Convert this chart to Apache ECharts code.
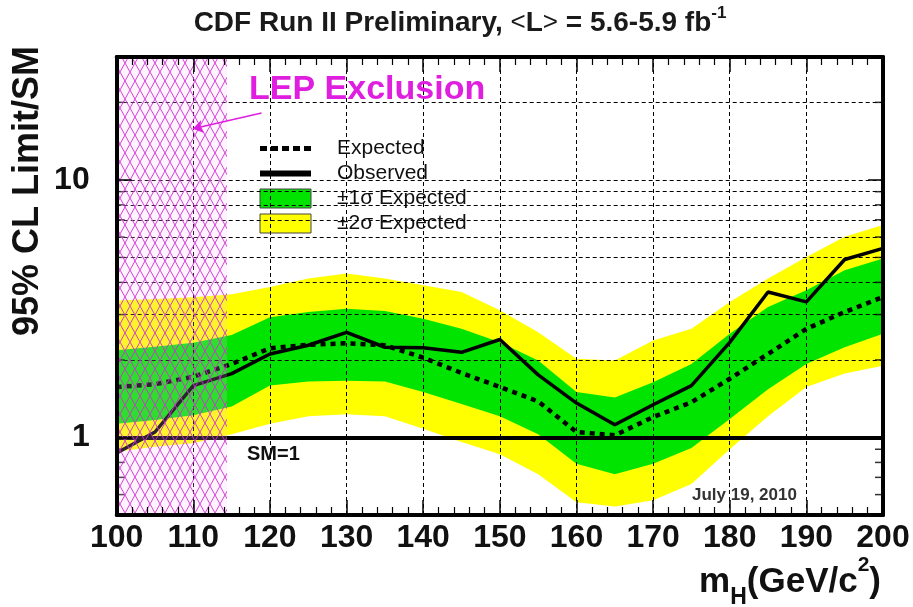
<!DOCTYPE html>
<html>
<head>
<meta charset="utf-8">
<script src="https://cdn.jsdelivr.net/npm/echarts@6.0.0/dist/echarts.min.js"></script>
<style>html,body{margin:0;padding:0;background:#fff}#c{width:913px;height:607px}</style>
</head>
<body>
<div id="c"></div>
<script>
// Higgs mass points (GeV/c^2)
const mass = [100,105,110,115,120,125,130,135,140,145,150,155,160,165,170,175,180,185,190,195,200];
// 95% CL limit / SM
const observed = [0.87,1.05,1.59,1.77,2.11,2.28,2.56,2.24,2.23,2.14,2.40,1.75,1.36,1.12,1.34,1.59,2.34,3.67,3.36,4.91,5.42];
const expected = [1.57,1.61,1.72,1.93,2.22,2.29,2.32,2.28,2.04,1.78,1.57,1.38,1.05,1.02,1.20,1.37,1.69,2.11,2.64,3.07,3.51];
const sigma1Hi = [2.18,2.25,2.33,2.50,2.93,3.07,3.16,3.10,2.89,2.64,2.34,1.99,1.50,1.43,1.64,1.93,2.53,3.21,3.73,4.46,4.95];
const sigma1Lo = [1.13,1.17,1.22,1.32,1.59,1.65,1.66,1.65,1.50,1.35,1.21,1.03,0.79,0.72,0.79,0.91,1.18,1.54,1.93,2.24,2.53];
const sigma2Hi = [3.40,3.45,3.50,3.60,3.84,4.14,4.33,4.14,3.90,3.67,3.12,2.56,2.02,1.99,2.38,2.64,3.36,4.14,5.02,6.01,6.68];
const sigma2Lo = [0.88,0.92,0.95,1.03,1.13,1.21,1.23,1.21,1.08,0.96,0.86,0.72,0.56,0.54,0.57,0.66,0.90,1.21,1.57,1.77,1.90];
// axis / annotation values
const xTicks = [100,110,120,130,140,150,160,170,180,190,200];
const yLabels = [1,10];
const yGridValues = [2,3,4,5,6,7,8,9,10,20];
const yMinorTicks = [0.6,0.7,0.8,0.9,2,3,4,5,6,7,8,9,20];
const lepLimit = 114.4;
const smLevel = 1;
const arrowFrom = [118.9, 18.2];
const arrowTo = [109.95, 15.8];

const FONT = '"Liberation Sans", Arial, Helvetica, sans-serif';

// hatch pattern tile
function hatchTile(){
  const w = 10, h = 18;
  const c = document.createElement('canvas');
  c.width = w; c.height = h;
  const g = c.getContext('2d');
  g.fillStyle = 'rgba(255,190,255,0.18)';
  g.fillRect(0,0,w,h);
  g.strokeStyle = 'rgba(205,50,210,0.9)';
  g.lineWidth = 1;
  g.beginPath();
  for (let k=-1;k<=1;k++){
    g.moveTo(k*w,k*h); g.lineTo((k+1)*w,(k+1)*h);
    g.moveTo(w - k*w, k*h); g.lineTo(-k*w, (k+1)*h);
  }
  g.stroke();
  return c;
}

function bandSeries(name, lo, hi, color, z){
  return {
    type: 'custom', name: name, z: z,
    itemStyle: {color: color},
    data: mass.map((m,i)=>[m, lo[i], hi[i]]),
    encode: {x: 0, y: [1,2]},
    renderItem: function(params, api){
      if (params.dataIndex !== 0) return null;
      const pts = [];
      for (let i=0;i<mass.length;i++) pts.push(api.coord([mass[i], hi[i]]));
      for (let i=mass.length-1;i>=0;i--) pts.push(api.coord([mass[i], lo[i]]));
      return {type:'polygon', shape:{points:pts}, style:{fill:color}};
    }
  };
}

const chart = echarts.init(document.getElementById('c'));
const axisLineStyle = {color:'#000', width:4};
const xAxisCommon = {
  type:'value', min:100, max:200, interval:10,
  axisLine:{show:true, onZero:false, lineStyle:axisLineStyle},
  axisTick:{show:true, inside:true, length:15, lineStyle:{color:'#000', width:1.5}},
  minorTick:{show:true, splitNumber:5, length:8, lineStyle:{color:'#000', width:1.2}},
  splitLine:{show:false}, z: 20
};
const yAxisCommon = {
  type:'log', logBase:10, min:0.5, max:30,
  axisLine:{show:true, onZero:false, lineStyle:axisLineStyle},
  axisTick:{show:true, inside:true, length:15, lineStyle:{color:'#000', width:1.5}},
  splitLine:{show:false}, z: 20
};

const option = {
  animation:false,
  backgroundColor:'#fff',
  textStyle:{fontFamily:FONT},
  title:{
    left:460, top:5, textAlign:'center', padding:0,
    text:'{a|CDF Run II Preliminary, }{n|<}{a|L}{n|>}{a| = 5.6-5.9 fb}{s|-1}',
    textStyle:{rich:{
      a:{fontSize:28, fontWeight:'bold', color:'#1a1a1a', fontFamily:FONT, lineHeight:36},
      n:{fontSize:26, fontWeight:'normal', color:'#1a1a1a', fontFamily:FONT, lineHeight:36},
      s:{fontSize:17, fontWeight:'bold', color:'#1a1a1a', fontFamily:FONT, lineHeight:18, verticalAlign:'top'}
    }}
  },
  grid:{left:116.7, right:30, top:57, bottom:92, containLabel:false},
  legend:{
    orient:'vertical', left:257, top:138, itemWidth:51, itemHeight:19, itemGap:4, padding:0,
    selectedMode:false,
    textStyle:{fontSize:21, lineHeight:19, color:'#111', fontFamily:FONT, padding:[0,0,0,21]},
    data:[
      {name:'Expected', itemStyle:{opacity:0}, lineStyle:{color:'#000', width:5, type:[7,4], opacity:1}},
      {name:'Observed', itemStyle:{opacity:0}, lineStyle:{color:'#000', width:6, type:'solid', opacity:1}},
      {name:'±1σ Expected', icon:'rect', itemStyle:{color:'#00e400', borderColor:'#444', borderWidth:1}},
      {name:'±2σ Expected', icon:'rect', itemStyle:{color:'#ffff00', borderColor:'#444', borderWidth:1}}
    ]
  },
  xAxis:[
    Object.assign({}, xAxisCommon, {
      position:'bottom',
      axisLabel:{show:true, fontSize:32, fontWeight:'bold', color:'#111', margin:7, fontFamily:FONT,
        formatter: v => xTicks.indexOf(v) >= 0 ? String(v) : ''}
    }),
    Object.assign({}, xAxisCommon, {position:'top', axisLabel:{show:false}})
  ],
  yAxis:[
    Object.assign({}, yAxisCommon, {
      position:'left',
      axisLabel:{show:true, fontSize:32, fontWeight:'bold', color:'#111', margin:27, fontFamily:FONT,
        showMinLabel:false, showMaxLabel:false,
        formatter: v => { for (const l of yLabels) if (Math.abs(v-l) < 1e-6*l) return String(l); return ''; }}
    }),
    Object.assign({}, yAxisCommon, {position:'right', axisLabel:{show:false}})
  ],
  series:[
    bandSeries('±2σ Expected', sigma2Lo, sigma2Hi, '#ffff00', 1),
    bandSeries('±1σ Expected', sigma1Lo, sigma1Hi, '#00e400', 2),
    {
      type:'line', name:'grid', z:4, data:[], silent:true,
      markLine:{
        z:4, silent:true, symbol:'none', label:{show:false},
        lineStyle:{color:'#000', type:[4,3], width:1},
        data: yGridValues.map(v=>({yAxis:v}))
          .concat(xTicks.slice(1,-1).map(v=>({xAxis:v})))
          .concat([{yAxis:smLevel, lineStyle:{color:'#000', type:'solid', width:4}}])
      }
    },
    {
      type:'line', name:'Expected', z:6, symbol:'none', showSymbol:false,
      lineStyle:{color:'#000', width:4.5, type:[5,5]},
      itemStyle:{color:'#000'},
      data: mass.map((m,i)=>[m, expected[i]])
    },
    {
      type:'line', name:'Observed', z:7, symbol:'none', showSymbol:false,
      lineStyle:{color:'#000', width:3.5},
      itemStyle:{color:'#000'},
      data: mass.map((m,i)=>[m, observed[i]])
    },
    {
      type:'scatter', name:'yticks', z:9, silent:true, clip:false,
      symbol:'rect', symbolSize:[8,1.5], symbolOffset:[4,0],
      itemStyle:{color:'#000'},
      data: yMinorTicks.map(v=>[100, v])
    },
    {
      type:'scatter', name:'yticksR', z:9, silent:true, clip:false,
      symbol:'rect', symbolSize:[8,1.5], symbolOffset:[-4,0],
      itemStyle:{color:'#000'},
      data: yMinorTicks.map(v=>[200, v])
    },
    {
      type:'line', name:'lep', z:10, data:[], silent:true,
      markArea:{
        z:10, silent:true,
        itemStyle:{color:{image:hatchTile(), repeat:'repeat'}},
        data:[[{xAxis:100},{xAxis:lepLimit}]]
      },
      markLine:{
        z:11, silent:true, symbol:['none','arrow'], symbolSize:10, label:{show:false},
        lineStyle:{color:'#e01ee0', type:'solid', width:1.5},
        data:[[{coord:arrowFrom},{coord:arrowTo}]]
      }
    }
  ],
  graphic:[
    {type:'text', x:249, y:90, z:50, style:{text:'LEP Exclusion', fill:'#e01ee0', font:'bold 34px '+FONT, verticalAlign:'middle', align:'left'}},
    {type:'text', x:247, y:454, z:50, style:{text:'SM=1', fill:'#111', font:'bold 20px '+FONT, verticalAlign:'middle', align:'left'}},
    {type:'text', x:692, y:495, z:50, style:{text:'July 19, 2010', fill:'#333', font:'bold 17px '+FONT, verticalAlign:'middle', align:'left'}},
    {type:'text', x:28, y:191, rotation:Math.PI/2, z:50, style:{text:'95% CL Limit/SM', fill:'#111', font:'bold 36px '+FONT, verticalAlign:'middle', align:'center'}},
    {type:'text', right:32, top:555, z:50, style:{
      text:'{a|m}{s|H}{a|(GeV/c}{p|2}{a|)}', fill:'#111',
      rich:{
        a:{fontSize:35, fontWeight:'bold', fontFamily:FONT, lineHeight:54, fill:'#111'},
        s:{fontSize:23, fontWeight:'bold', fontFamily:FONT, lineHeight:22, verticalAlign:'bottom', fill:'#111'},
        p:{fontSize:21, fontWeight:'bold', fontFamily:FONT, lineHeight:40, verticalAlign:'top', fill:'#111'}
      }}}
  ]
};
chart.setOption(option);
</script>
</body>
</html>
